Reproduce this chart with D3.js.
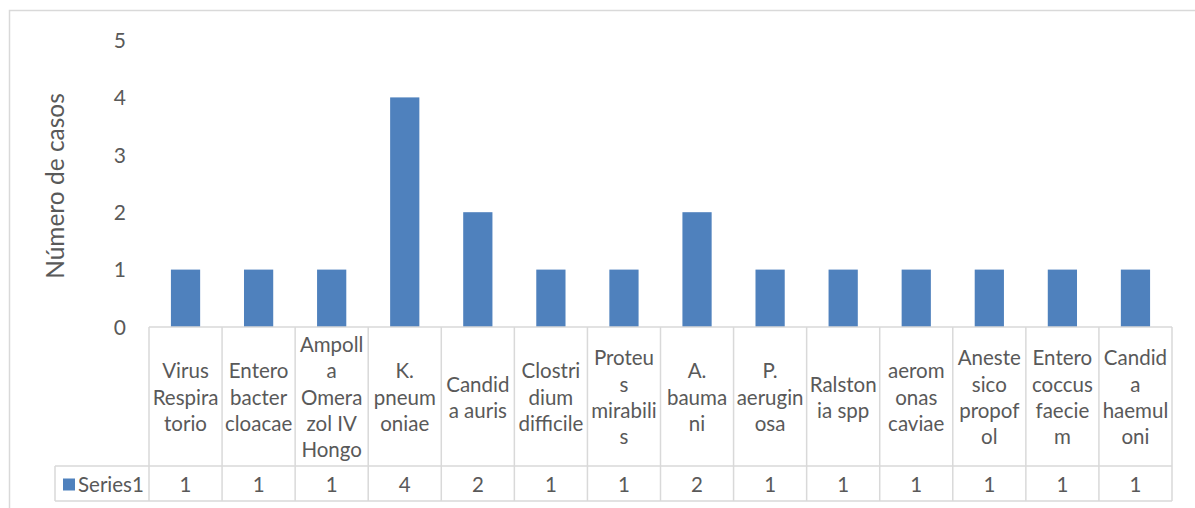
<!DOCTYPE html>
<html>
<head>
<meta charset="utf-8">
<script src="https://cdn.jsdelivr.net/npm/d3@7"></script>
<style>
  html, body { margin: 0; padding: 0; background: #fff; }
  svg { display: block; }
  text { font-family: Lato, "Open Sans", "Liberation Sans", sans-serif; fill: #595959; }
</style>
</head>
<body>
<svg id="chart" width="1195" height="508"></svg>
<script>
// Cases per agent
const categories = [
  "Virus Respiratorio", "Enterobacter cloacae", "Ampolla Omerazol IV Hongo",
  "K. pneumoniae", "Candida auris", "Clostridium difficile", "Proteus mirabilis",
  "A. baumani", "P. aeruginosa", "Ralstonia spp", "aeromonas caviae",
  "Anestesico propofol", "Enterococcus faeciem", "Candida haemuloni"
];
// Category labels as they wrap inside the narrow table columns
const categoryLines = [
  ["Virus", "Respira", "torio"],
  ["Entero", "bacter", "cloacae"],
  ["Ampoll", "a", "Omera", "zol IV", "Hongo"],
  ["K.", "pneum", "oniae"],
  ["Candid", "a auris"],
  ["Clostri", "dium", "difficile"],
  ["Proteu", "s", "mirabili", "s"],
  ["A.", "bauma", "ni"],
  ["P.", "aerugin", "osa"],
  ["Ralston", "ia spp"],
  ["aerom", "onas", "caviae"],
  ["Aneste", "sico", "propof", "ol"],
  ["Entero", "coccus", "faecie", "m"],
  ["Candid", "a", "haemul", "oni"]
];
const seriesName = "Series1";
const series1 = [1, 1, 1, 4, 2, 1, 1, 2, 1, 1, 1, 1, 1, 1];
const yTicks = [0, 1, 2, 3, 4, 5];
const yTitle = "Número de casos";

const svg = d3.select("#chart");
const gridColor = "#d9d9d9";
const barColor = "#4f81bd";
const labelSize = "20.5px";

// Outer chart frame (left and top edges visible)
svg.append("path")
  .attr("d", "M9.5,508 V10.5 H1195")
  .attr("fill", "none")
  .attr("stroke", gridColor)
  .attr("stroke-width", 1.5);

const plotLeft = 149, plotRight = 1172;
const baseY = 327, headerBottom = 466, tableBottom = 501, legendLeft = 55;

const x = d3.scaleBand().domain(categories).range([plotLeft, plotRight]).padding(0);
const y = d3.scaleLinear().domain([0, 5]).range([baseY, 40]);

// Y axis labels
const yAxis = d3.axisLeft(y).tickValues(yTicks).tickSize(0).tickPadding(0).tickFormat(d3.format("d"));
const gy = svg.append("g").attr("transform", "translate(126,0)").call(yAxis);
gy.select(".domain").remove();
gy.selectAll("text")
  .style("font-size", "21px")
  .style("font-family", "Lato, 'Open Sans', sans-serif")
  .attr("fill", "#595959")
  .attr("dy", "0.35em");

// Y axis title
svg.append("text")
  .attr("transform", `translate(58,${186}) rotate(-90)`)
  .attr("text-anchor", "middle")
  .attr("dominant-baseline", "middle")
  .style("font-size", "24.5px")
  .text(yTitle);

// Bars
const bw = x.bandwidth();
svg.append("g").selectAll("rect")
  .data(series1)
  .join("rect")
  .attr("x", (d, i) => x(categories[i]) + bw * 0.3)
  .attr("width", bw * 0.4)
  .attr("y", d => y(d))
  .attr("height", d => y(0) - y(d))
  .attr("fill", barColor);

// Data table grid
const grid = svg.append("g").attr("stroke", gridColor).attr("stroke-width", 1.5).attr("fill", "none");
grid.append("line").attr("x1", plotLeft).attr("x2", plotRight).attr("y1", baseY).attr("y2", baseY);
grid.append("line").attr("x1", legendLeft).attr("x2", plotRight).attr("y1", headerBottom).attr("y2", headerBottom);
grid.append("line").attr("x1", legendLeft).attr("x2", plotRight).attr("y1", tableBottom).attr("y2", tableBottom);
grid.append("line").attr("x1", legendLeft).attr("x2", legendLeft).attr("y1", headerBottom).attr("y2", tableBottom);
const edges = categories.map(c => x(c)).concat([plotRight]);
grid.selectAll("line.col")
  .data(edges)
  .join("line")
  .attr("class", "col")
  .attr("x1", d => d).attr("x2", d => d)
  .attr("y1", baseY).attr("y2", tableBottom);

// Category labels
const lineH = 26.2;
const headerMid = (baseY + headerBottom) / 2 + 1;
const labels = svg.append("g").style("font-size", labelSize).attr("text-anchor", "middle");
categories.forEach((c, i) => {
  const lines = categoryLines[i];
  const cx = x(c) + bw / 2;
  const y0 = headerMid - (lines.length - 1) * lineH / 2;
  labels.append("text")
    .attr("x", cx)
    .selectAll("tspan")
    .data(lines)
    .join("tspan")
    .attr("x", cx)
    .attr("y", (d, k) => y0 + k * lineH)
    .attr("dy", "0.35em")
    .text(d => d);
});

// Value row
const rowMid = (headerBottom + tableBottom) / 2 + 1;
svg.append("g").style("font-size", labelSize).attr("text-anchor", "middle")
  .selectAll("text")
  .data(series1)
  .join("text")
  .attr("x", (d, i) => x(categories[i]) + bw / 2)
  .attr("y", rowMid)
  .attr("dy", "0.35em")
  .text(d => d);

// Legend key
svg.append("rect")
  .attr("x", 63).attr("y", rowMid - 6)
  .attr("width", 12).attr("height", 12)
  .attr("fill", barColor);
svg.append("text")
  .attr("x", 78).attr("y", rowMid)
  .attr("dy", "0.35em")
  .style("font-size", labelSize)
  .text(seriesName);
</script>
</body>
</html>
